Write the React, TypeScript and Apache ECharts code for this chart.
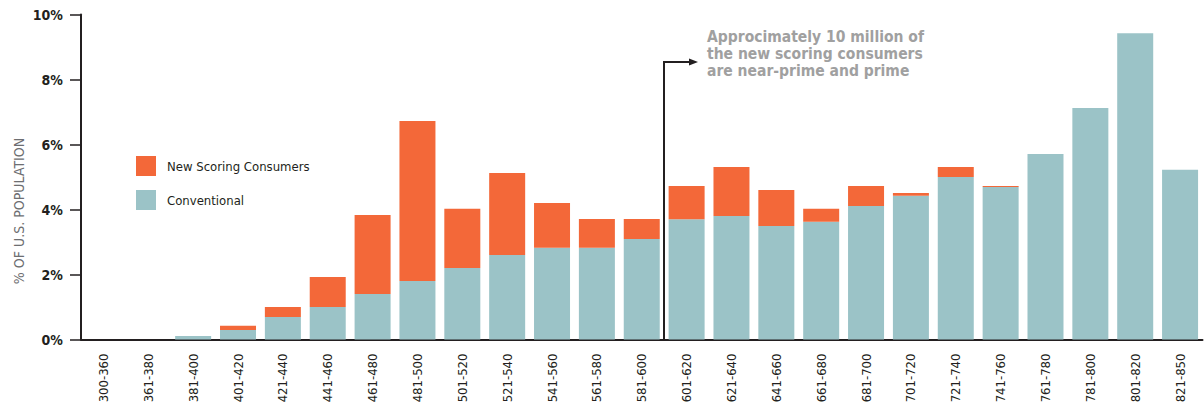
import React, { useEffect, useRef } from "react";
import * as echarts from "echarts";

const categories = [
  "300-360", "361-380", "381-400", "401-420", "421-440", "441-460", "461-480",
  "481-500", "501-520", "521-540", "541-560", "561-580", "581-600", "601-620",
  "621-640", "641-660", "661-680", "681-700", "701-720", "721-740", "741-760",
  "761-780", "781-800", "801-820", "821-850",
];
const conventional = [
  0, 0, 0.11, 0.29, 0.69, 1.0, 1.4, 1.8, 2.2, 2.6, 2.82, 2.82, 3.09, 3.7,
  3.8, 3.49, 3.62, 4.11, 4.42, 5.0, 4.69, 5.71, 7.12, 9.42, 5.22,
];
const newScoring = [
  0, 0, 0, 0.13, 0.31, 0.92, 2.43, 4.92, 1.82, 2.52, 1.38, 0.89, 0.62, 1.02,
  1.51, 1.11, 0.4, 0.61, 0.09, 0.31, 0.03, 0, 0, 0, 0,
];
const yTicks = { min: 0, max: 10, interval: 2 };
const seriesNames = ["New Scoring Consumers", "Conventional"];
const annotationText = [
  "Approcimately 10 million of",
  "the new scoring consumers",
  "are near-prime and prime",
];
const yAxisTitle = "% OF U.S. POPULATION";

const FONT = "'DejaVu Sans Condensed', 'Liberation Sans Narrow', 'Roboto', sans-serif";
const DARK = "#231f20";
const ORANGE = "#f36839";
const TEAL = "#9bc3c7";

export default function App() {
  const ref = useRef<HTMLDivElement>(null);
  useEffect(() => {
    if (!ref.current) return;
    const chart = echarts.init(ref.current, undefined, { renderer: "svg" });
    chart.setOption({
      animation: false,
      textStyle: { fontFamily: FONT },
      grid: {
        left: 81,
        right: 1.5,
        top: 14.5,
        bottom: 67.5,
        containLabel: false,
        outerBoundsMode: "none",
      },
      legend: {
        orient: "vertical",
        left: 136,
        top: 156,
        padding: 0,
        itemWidth: 20,
        itemHeight: 20,
        itemGap: 14,
        icon: "rect",
        data: seriesNames,
        textStyle: { fontFamily: FONT, fontSize: 13, color: DARK, padding: [0, 0, 0, 6] },
      },
      xAxis: {
        type: "category",
        data: categories,
        axisLine: { show: true, lineStyle: { color: DARK, width: 2 } },
        axisTick: { show: false },
        axisLabel: {
          rotate: 90,
          margin: 14,
          fontSize: 13,
          color: DARK,
          fontFamily: FONT,
          interval: 0,
        },
      },
      yAxis: {
        type: "value",
        min: yTicks.min,
        max: yTicks.max,
        interval: yTicks.interval,
        splitLine: { show: false },
        axisLine: { show: true, lineStyle: { color: DARK, width: 2 } },
        axisTick: { show: true, length: 11, lineStyle: { color: DARK, width: 1.5 } },
        axisLabel: {
          formatter: "{value}%",
          fontSize: 14,
          fontWeight: "bold",
          color: DARK,
          margin: 18,
          fontFamily: FONT,
        },
      },
      series: [
        {
          name: seriesNames[1],
          type: "bar",
          stack: "total",
          barWidth: 36,
          itemStyle: { color: TEAL },
          data: conventional,
        },
        {
          name: seriesNames[0],
          type: "bar",
          stack: "total",
          barWidth: 36,
          itemStyle: { color: ORANGE },
          data: newScoring,
        },
      ],
    });

    const p12 = chart.convertToPixel({ xAxisIndex: 0 }, categories[12]) as number;
    const p13 = chart.convertToPixel({ xAxisIndex: 0 }, categories[13]) as number;
    const lx = Math.round((p12 + p13) / 2);
    const base = chart.convertToPixel({ yAxisIndex: 0 }, 0) as number;
    const top = chart.convertToPixel({ yAxisIndex: 0 }, 8.54) as number;

    chart.setOption({
      graphic: [
        {
          type: "polyline",
          shape: { points: [[lx, base], [lx, top], [lx + 26, top]] },
          style: { stroke: DARK, lineWidth: 2, fill: "none" },
          z: 10,
        },
        {
          type: "polygon",
          shape: { points: [[lx + 34, top], [lx + 25, top - 3.5], [lx + 25, top + 3.5]] },
          style: { fill: DARK },
          z: 10,
        },
        {
          type: "text",
          x: lx + 43,
          y: top - 33,
          style: {
            text: annotationText.join("\n"),
            fill: "#a0a0a0",
            font: `bold 15.5px ${FONT}`,
            lineHeight: 17,
            verticalAlign: "top",
          },
          z: 10,
        },
        {
          type: "text",
          x: 19,
          y: 211,
          rotation: Math.PI / 2,
          style: {
            text: yAxisTitle,
            fill: "#6d6e71",
            font: `14px ${FONT}`,
            align: "center",
            verticalAlign: "middle",
          },
        },
      ],
    });

    return () => chart.dispose();
  }, []);
  return (
    <div
      ref={ref}
      style={{ position: "absolute", left: 0, top: 0, width: 1204, height: 407 }}
    />
  );
}
